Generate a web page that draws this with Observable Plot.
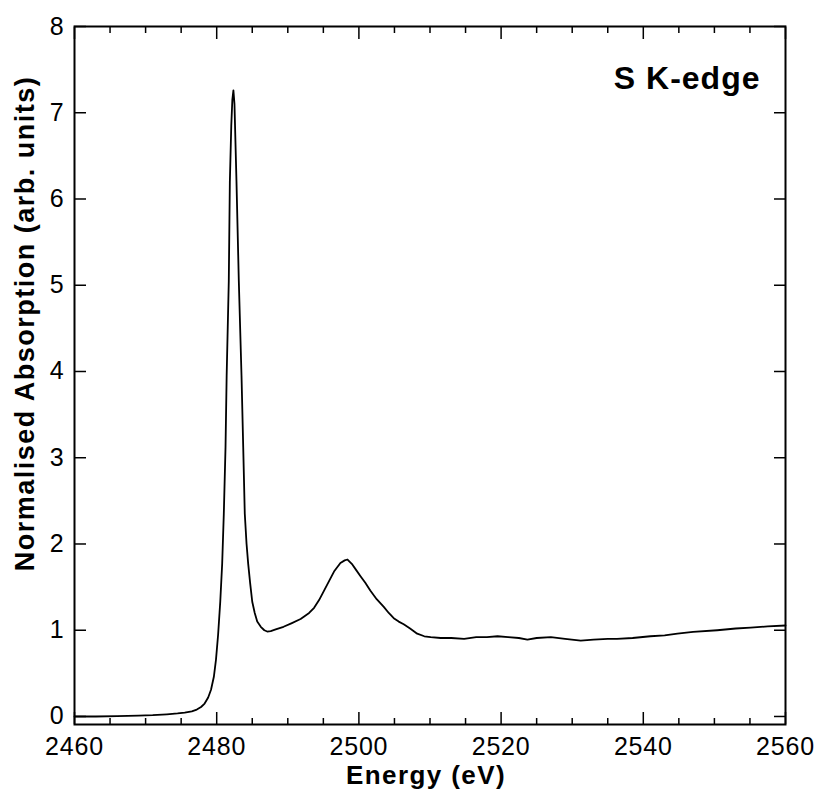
<!DOCTYPE html>
<html>
<head>
<meta charset="utf-8">
<script src="https://cdn.jsdelivr.net/npm/d3@7"></script>
<script src="https://cdn.jsdelivr.net/npm/@observablehq/plot@0.6"></script>
<style>
  body { margin: 0; background: #fff; }
  #chart { width: 816px; height: 790px; }
</style>
</head>
<body>
<div id="chart"></div>
<script>
// Energy (eV)
const energy = [
  2460, 2463, 2466, 2469, 2471, 2473, 2474.5, 2475.5, 2476.5, 2477.2,
  2477.8, 2478.3, 2478.8, 2479.2, 2479.6, 2479.9, 2480.2, 2480.5, 2480.77, 2481.0,
  2481.24, 2481.4, 2481.7, 2481.85, 2482.05, 2482.2, 2482.35, 2482.5, 2482.78, 2483.11,
  2483.49, 2483.73, 2483.95, 2484.2, 2484.43, 2484.7, 2485.0, 2485.35, 2485.7, 2486.2,
  2486.7, 2487.1, 2487.6, 2488.3, 2489.4, 2490.5, 2491.8, 2493.0, 2493.7, 2494.4,
  2495.1, 2495.8, 2496.5, 2497.4, 2498.0, 2498.4, 2499.0, 2499.6, 2500.2, 2500.9,
  2501.6, 2502.5, 2503.5, 2504.2, 2504.9, 2505.6, 2506.3, 2507.2, 2508.2, 2509.2,
  2510.1, 2511.5, 2513, 2514.8, 2516.5, 2518, 2519.5, 2521, 2522.5, 2523.7,
  2525, 2527, 2529, 2531.2, 2533, 2535, 2536.3, 2538.5, 2541, 2543,
  2544.8, 2547, 2550.4, 2553, 2555.1, 2557.5, 2560
];
// Normalised absorption (arb. units)
const absorption = [
  0.00, 0.00, 0.005, 0.01, 0.015, 0.025, 0.035, 0.045, 0.06, 0.08,
  0.11, 0.15, 0.22, 0.31, 0.46, 0.66, 0.95, 1.33, 1.77, 2.35,
  3.12, 3.95, 5.05, 6.2, 6.85, 7.15, 7.26, 7.1, 6.21, 5.05,
  3.95, 3.12, 2.35, 2.0, 1.77, 1.55, 1.33, 1.2, 1.1, 1.04,
  1.0, 0.985, 0.99, 1.01, 1.04, 1.08, 1.13, 1.2, 1.26, 1.35,
  1.46, 1.57, 1.68, 1.78, 1.81, 1.82, 1.77, 1.70, 1.63, 1.55,
  1.46, 1.36, 1.27, 1.2, 1.14, 1.10, 1.07, 1.02, 0.96, 0.93,
  0.92, 0.91, 0.91, 0.90, 0.92, 0.92, 0.93, 0.92, 0.91, 0.89,
  0.91, 0.92, 0.90, 0.88, 0.89, 0.90, 0.90, 0.91, 0.93, 0.94,
  0.96, 0.98, 1.0, 1.02, 1.03, 1.045, 1.055
];

const xMajorTicks = [2460, 2480, 2500, 2520, 2540, 2560];
const xMinorTicks = [2465, 2470, 2475, 2485, 2490, 2495, 2505, 2510, 2515, 2525, 2530, 2535, 2545, 2550, 2555];
const yMajorTicks = [0, 1, 2, 3, 4, 5, 6, 7, 8];
const xTitle = "Energy (eV)";
const yTitle = "Normalised Absorption (arb. units)";
const annotation = "S K-edge";

const data = energy.map((e, i) => ({energy: e, absorption: absorption[i]}));
const blank = () => "";

const chart = Plot.plot({
  width: 816,
  height: 790,
  marginTop: 26,
  marginRight: 31,
  marginBottom: 66,
  marginLeft: 74,
  style: {fontFamily: "'Liberation Sans', Arial, Helvetica, sans-serif", background: "white", color: "black"},
  x: {domain: [2460, 2560]},
  y: {domain: [-0.093, 8]},
  marks: [
    // inward ticks
    Plot.axisX({anchor: "bottom", ticks: xMajorTicks, tickSize: -12, tickFormat: blank, label: null, strokeWidth: 1.5}),
    Plot.axisX({anchor: "bottom", ticks: xMinorTicks, tickSize: -6, tickFormat: blank, label: null, strokeWidth: 1.5}),
    Plot.axisX({anchor: "top", ticks: xMajorTicks, tickSize: -12, tickFormat: blank, label: null, strokeWidth: 1.5}),
    Plot.axisX({anchor: "top", ticks: xMinorTicks, tickSize: -6, tickFormat: blank, label: null, strokeWidth: 1.5}),
    Plot.axisY({anchor: "left", ticks: yMajorTicks, tickSize: -12, tickFormat: blank, label: null, strokeWidth: 1.5}),
    Plot.axisY({anchor: "right", ticks: yMajorTicks, tickSize: -12, tickFormat: blank, label: null, strokeWidth: 1.5}),
    // tick labels
    Plot.axisX({anchor: "bottom", ticks: xMajorTicks, tickSize: 0, tickPadding: 13, tickFormat: d => String(d), label: null, fontSize: 25}),
    Plot.axisY({anchor: "left", ticks: yMajorTicks, tickSize: 0, tickPadding: 10, tickFormat: d => String(d), label: null, fontSize: 25}),
    Plot.frame({stroke: "black", strokeWidth: 2}),
    Plot.line(data, {x: "energy", y: "absorption", stroke: "black", strokeWidth: 1.8}),
    // titles
    Plot.text([xTitle], {frameAnchor: "bottom", dx: -4, dy: 59, lineAnchor: "bottom", textAnchor: "middle", fontSize: 26, fontWeight: "bold"}),
    Plot.text([yTitle], {frameAnchor: "left", rotate: -90, dx: -41, dy: -52, lineAnchor: "bottom", textAnchor: "middle", fontSize: 27, fontWeight: "bold"}),
    Plot.text([annotation], {frameAnchor: "top-right", dx: -25, dy: 62, lineAnchor: "bottom", textAnchor: "end", fontSize: 32, fontWeight: "bold"})
  ]
});

document.getElementById("chart").appendChild(chart);
const spacing = {[xTitle]: "1.4px", [yTitle]: "1.5px", [annotation]: "1px"};
d3.select(chart).selectAll("text").each(function() {
  const t = this.textContent;
  if (spacing[t]) this.setAttribute("letter-spacing", spacing[t]);
  else if (/^\d+$/.test(t)) this.setAttribute("letter-spacing", "0.8px");
});
</script>
</body>
</html>
